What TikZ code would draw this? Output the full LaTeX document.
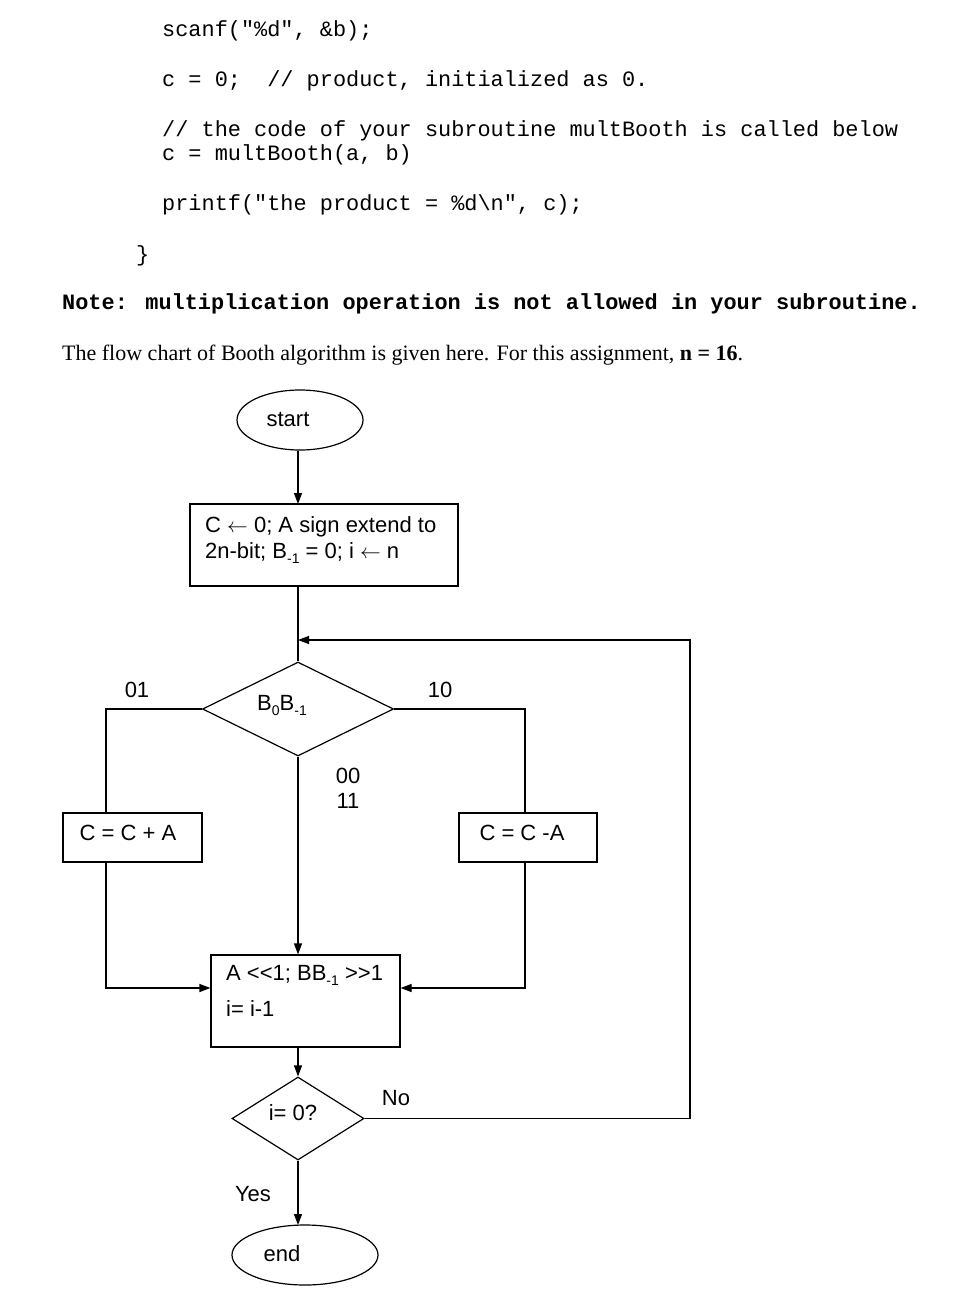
\documentclass[tikz,border=0pt]{standalone}
\usepackage{fontspec}
\setmainfont{Liberation Serif}
\newfontfamily\mono{Liberation Mono}
\newfontfamily\sans{Liberation Sans}
\usetikzlibrary{arrows.meta,shapes.geometric}
\newcommand{\sbm}[1]{\raisebox{-5pt}{\fontsize{14}{14}\selectfont #1}}
\begin{document}
\begin{tikzpicture}[x=1pt,y=-1pt,
  code/.style={anchor=west,inner sep=0pt,font=\mono\fontsize{21.9}{24}\selectfont},
  lbl/.style={inner sep=0pt,font=\sans\fontsize{22}{24}\selectfont},
  box/.style={draw,line width=1.2pt,inner sep=0pt},
  ln/.style={line width=1.2pt},
  arr/.style={ln,-{Triangle[length=11pt,width=8pt]}}]
\useasboundingbox (0,0) rectangle (972,1300);
% code
\node[code] (l1) at (162,31) {scanf("\%d",\ \&b);};
\node[code] (l2) at (162,81) {c = 0;\ \ // product, initialized as 0.};
\node[code] (l3) at (162,131) {// the code of your subroutine multBooth is called below};
\node[code] (l4) at (162,155) {c = multBooth(a, b)};
\node[code] (l5) at (162,205) {printf("the product = \%d\textbackslash n", c);};
\node[code] (l6) at (136,256) {\}};
\node[code,font=\mono\bfseries\fontsize{21.9}{24}\selectfont] (note) at (62,304) {Note: multiplication operation is not allowed in your subroutine.};
\node[anchor=west,inner sep=0pt,font=\fontsize{22}{24}\selectfont] (txt) at (62,355) {The flow chart of Booth algorithm is given here. For this assignment, \textbf{n = 16}.};
% flowchart
\node[draw,ellipse,ln,minimum width=126pt,minimum height=60pt,inner sep=0pt] (start) at (300,420) {};
\node[lbl] at (288,419) {start};
\node[box,minimum width=268pt,minimum height=82pt] (b1) at (324,545) {};
\node[lbl,anchor=west] (t1a) at (205,527) {C $\leftarrow$ 0; A sign extend to};
\node[lbl,anchor=west] (t1b) at (205,553) {2n-bit; B\sbm{-1} = 0; i $\leftarrow$ n};
\node[draw,diamond,ln,aspect=2.03,minimum width=191pt,minimum height=94pt,inner sep=0pt] (d1) at (298,709) {};
\node[lbl] at (282,705) {B\sbm{0}B\sbm{-1}};
\node[box,minimum width=139pt,minimum height=49pt] (bl) at (132.5,837.5) {};
\node[lbl] at (128,833) {C = C + A};
\node[box,minimum width=138pt,minimum height=49pt] (br) at (528,837.5) {};
\node[lbl] at (522,833) {C = C -A};
\node[box,minimum width=189pt,minimum height=92pt] (b3) at (305.5,1001) {};
\node[lbl,anchor=west] at (226,975) {A <<1; BB\sbm{-1} >>1};
\node[lbl,anchor=west] at (226,1009) {i= i-1};
\node[draw,diamond,ln,aspect=1.6,minimum width=132pt,minimum height=83pt,inner sep=0pt] (d2) at (298,1118.5) {};
\node[lbl] at (293,1113) {i= 0?};
\node[draw,ellipse,ln,minimum width=146pt,minimum height=60pt,inner sep=0pt] (end) at (305,1255) {};
\node[lbl] at (282,1254) {end};
\node[lbl] at (137,690) {01};
\node[lbl] at (440,690) {10};
\node[lbl] at (348,776) {00};
\node[lbl] at (348,801) {11};
\node[lbl] at (396,1098) {No};
\node[lbl] at (253,1194) {Yes};
\coordinate (m) at (298,640);
\coordinate (r1) at (690,1118.5);
\coordinate (r2) at (690,640);
% connectors
\draw[arr] (start.south -| 298,0) -- (298,504);
\draw[ln] (298,586) -- (d1.north);
\draw[ln] (d1.west) -| (bl.north -| 106,0);
\draw[ln] (d1.east) -| (br.north -| 525,0);
\draw[arr] (106,862) |- (b3.west |- 0,988);
\draw[arr] (525,862) |- (b3.east |- 0,988);
\draw[arr] (d1.south) -- (b3.north -| 298,0);
\draw[arr] (298,1047) -- (d2.north);
\draw[arr] (d2.south) -- (298,1225);
\draw[arr] (d2.east) -- (r1) -- (r2) -- (m);
\end{tikzpicture}
\end{document}
